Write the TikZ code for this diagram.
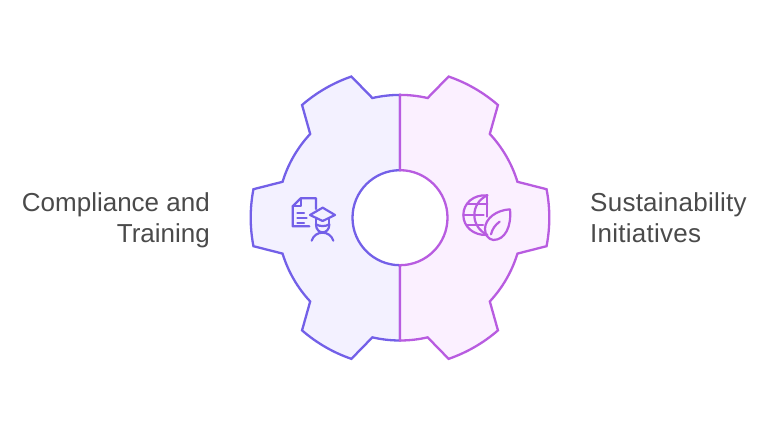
\documentclass[tikz,border=0pt]{standalone}
\usepackage{fontspec}
\setmainfont{Liberation Sans}
\definecolor{bluel}{HTML}{7360E8}
\definecolor{bluef}{HTML}{F3F1FF}
\definecolor{magl}{HTML}{B85CE0}
\definecolor{magf}{HTML}{FBF0FF}
\definecolor{txt}{HTML}{4A4A4A}
\newfontfamily\widefont[LetterSpace=1]{Liberation Sans}
\newcommand{\Rr}{122.8}
\newcommand{\Rt}{149.3}
\newcommand{\Ri}{47.5}
\begin{document}
\begin{tikzpicture}[x=1pt,y=-1pt,line join=round,
  gearline/.style={line width=2.3pt,line join=miter},
  icon/.style={line width=2.2pt,line cap=round,line join=round},
  label/.style={inner sep=0pt,text=txt,font=\fontsize{26}{32}\selectfont},
  wide/.style={inner sep=0pt,text=txt,font=\widefont\fontsize{26}{32}\selectfont}]
\useasboundingbox (0,0) rectangle (768,435);
\begin{scope}[x=1pt,y=1pt,shift={(400pt,-217.7pt)}]
\path[fill=bluef,draw=bluel,gearline]
 (90:\Rr) arc[start angle=90,end angle=103,radius=\Rr]
 -- (109:\Rt) arc[start angle=109,end angle=131,radius=\Rt]
 -- (137:\Rr) arc[start angle=137,end angle=163,radius=\Rr]
 -- (169:\Rt) arc[start angle=169,end angle=191,radius=\Rt]
 -- (197:\Rr) arc[start angle=197,end angle=223,radius=\Rr]
 -- (229:\Rt) arc[start angle=229,end angle=251,radius=\Rt]
 -- (257:\Rr) arc[start angle=257,end angle=270,radius=\Rr]
 -- (270:\Ri) arc[start angle=270,end angle=90,radius=\Ri] -- cycle;
\path[fill=magf,draw=magl,gearline]
 (90:\Rr) arc[start angle=90,end angle=77,radius=\Rr]
 -- (71:\Rt) arc[start angle=71,end angle=49,radius=\Rt]
 -- (43:\Rr) arc[start angle=43,end angle=17,radius=\Rr]
 -- (11:\Rt) arc[start angle=11,end angle=-11,radius=\Rt]
 -- (-17:\Rr) arc[start angle=-17,end angle=-43,radius=\Rr]
 -- (-49:\Rt) arc[start angle=-49,end angle=-71,radius=\Rt]
 -- (-77:\Rr) arc[start angle=-77,end angle=-90,radius=\Rr]
 -- (-90:\Ri) arc[start angle=-90,end angle=90,radius=\Ri] -- cycle;
\end{scope}
% document and graduate icon
\begin{scope}[shift={(280,185)},x=0.3333pt,y=-0.3333pt,draw=bluel,icon]
\draw (108,72) -- (108,40) -- (62,40) -- (38,64) -- (38,124) -- (88,124);
\draw (62,40) -- (62,64) -- (38,64);
\draw (52,85) -- (72,85) (52,100) -- (80,100) (52,113) -- (72,113);
\draw (128,68) -- (165,90) -- (128,108) -- (90,90) -- cycle;
\draw (108,100) -- (108,118) (148,100) -- (148,118);
\draw (108,118) .. controls (108,150) and (148,150) .. (148,118);
\draw (108,118) .. controls (120,125) and (136,125) .. (148,118);
\draw (95,167) .. controls (105,135) and (150,135) .. (160,167);
\end{scope}
% globe and leaf icon
\begin{scope}[shift={(455,185)},x=0.3333pt,y=-0.3333pt,draw=magl,icon]
\draw (97,31) .. controls (55,28) and (25,55) .. (25,90) .. controls (25,125) and (55,152) .. (97,150);
\draw (97,31) .. controls (45,55) and (45,125) .. (97,150);
\draw (97,31) -- (97,95);
\draw (36,56) -- (97,56) (25,89) -- (86,89) (36,121) -- (84,121);
\draw (165,73) .. controls (125,75) and (90,100) .. (90,132) .. controls (90,150) and (100,163) .. (115,165) .. controls (150,165) and (170,125) .. (165,73);
\draw (108,148) .. controls (112,132) and (120,120) .. (134,110);
\end{scope}
\node[label,anchor=base east] (t1a) at (210,211.8) {Compliance and};
\node[label,anchor=base east] (t1b) at (210,242.8) {Training};
\node[wide,anchor=base west] (t2a) at (590,211.8) {Sustainability};
\node[wide,anchor=base west] (t2b) at (590,242.8) {Initiatives};
\end{tikzpicture}
\end{document}
